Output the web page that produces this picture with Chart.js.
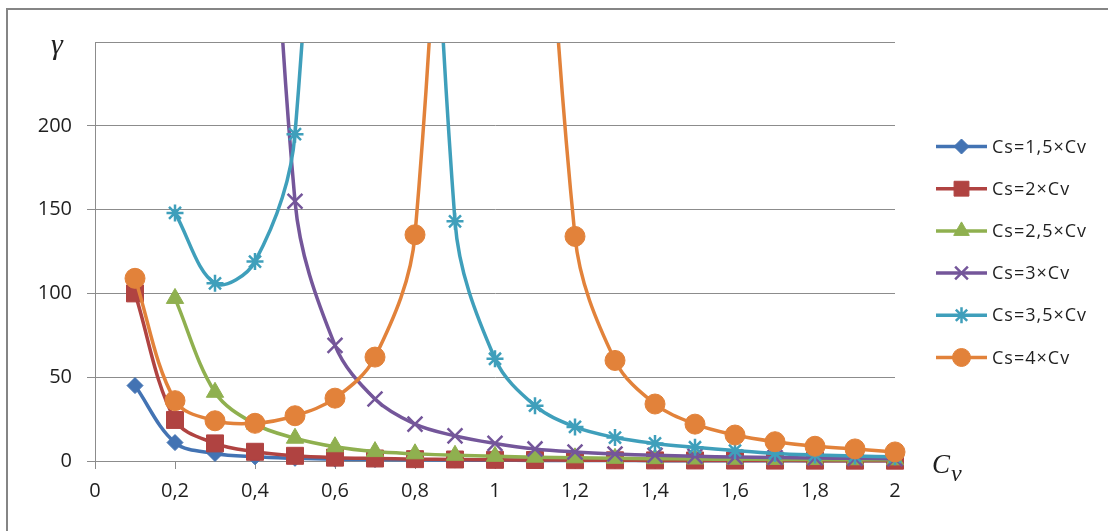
<!DOCTYPE html>
<html>
<head>
<meta charset="utf-8">
<script src="https://cdn.jsdelivr.net/npm/chart.js@4.4.1/dist/chart.umd.min.js"></script>
<style>
  html, body { margin: 0; padding: 0; background: #fff; }
  #wrap { width: 1108px; height: 531px; position: relative; }
</style>
</head>
<body>
<div id="wrap"><canvas id="chart-gamma"></canvas></div>
<script>
var cv = [0.1, 0.2, 0.3, 0.4, 0.5, 0.6, 0.7, 0.8, 0.9, 1.0, 1.1, 1.2, 1.3, 1.4, 1.5, 1.6, 1.7, 1.8, 1.9, 2.0];

var gamma15 = [45, 11, 4.5, 2.5, 1.6, 1.1, 0.85, 0.7, 0.55, 0.45, 0.37, 0.31, 0.26, 0.22, 0.19, 0.17, 0.15, 0.13, 0.12, 0.11];
var gamma20 = [100, 24.5, 10.5, 5.5, 3.1, 2, 1.5, 1.1, 0.9, 0.7, 0.6, 0.5, 0.42, 0.36, 0.32, 0.28, 0.25, 0.22, 0.2, 0.18];
var gamma25 = [null, 97, 41, 22, 13.6, 8.5, 5.6, 4.3, 3.4, 2.8, 2.3, 1.9, 1.6, 1.4, 1.2, 1.05, 0.95, 0.85, 0.75, 0.7];
var gamma30 = [null, null, null, 600, 155, 69, 37, 22, 15, 10.5, 7.2, 5.4, 4.2, 3.4, 2.8, 2.4, 2.1, 1.8, 1.6, 1.4];
var gamma35 = [null, 148, 106, 119, 195, 700, 1500, 700, 143, 61, 33, 20.3, 14, 10.5, 8.2, 6.2, 4.5, 3.6, 3, 2.5];
var gamma40 = [109, 36, 24, 22.5, 27, 37.5, 62, 135, 620, 1500, 540, 134, 60, 34, 22, 15.5, 11.5, 8.8, 7.2, 5.4];

var seriesNames = ['Cs=1,5×Cv', 'Cs=2×Cv', 'Cs=2,5×Cv', 'Cs=3×Cv', 'Cs=3,5×Cv', 'Cs=4×Cv'];
var seriesValues = [gamma15, gamma20, gamma25, gamma30, gamma35, gamma40];
var colors = ['#4373b3', '#b04341', '#8fb04f', '#74569a', '#3f9fbb', '#e2823a'];
var markers = ['rectRot', 'rect', 'triangle', 'crossRot', 'star', 'circle'];
var markerSizes = [8, 12, 10, 10.5, 8.5, 10];
var legendSizes = [7.5, 10.5, 9, 9, 8, 9];

var gridColor = '#8c8c8c';
var textColor = '#1f1f1f';

function comma(v) {
    return (Math.round(v * 10) / 10).toString().replace('.', ',');
}

function isStroked(style) {
    return style === 'crossRot' || style === 'star';
}

var datasets = seriesNames.map(function (name, i) {
    return {
        label: name,
        data: cv.map(function (x, j) { return { x: x, y: seriesValues[i][j] }; }),
        borderColor: colors[i],
        backgroundColor: colors[i],
        pointBackgroundColor: colors[i],
        pointBorderColor: colors[i],
        pointStyle: markers[i],
        pointRadius: markerSizes[i],
        pointBorderWidth: isStroked(markers[i]) ? 2.5 : 1,
        borderWidth: 3.5,
        tension: 0.35,
        spanGaps: false,
        order: 5 - i,
        clip: { left: 20, top: 0, right: 20, bottom: 20 }
    };
});

var extras = {
    id: 'extras',
    beforeDraw: function (chart) {
        var ctx = chart.ctx;
        ctx.save();
        ctx.fillStyle = '#fff';
        ctx.fillRect(0, 0, chart.width, chart.height);
        ctx.strokeStyle = '#858585';
        ctx.lineWidth = 2;
        ctx.beginPath();
        ctx.moveTo(7, 531);
        ctx.lineTo(7, 9);
        ctx.lineTo(1108, 9);
        ctx.stroke();
        ctx.restore();
    },
    afterDraw: function (chart) {
        var ctx = chart.ctx, area = chart.chartArea;
        ctx.save();
        // top grid line at y max
        var yTop = Math.round(chart.scales.y.getPixelForValue(250)) + 0.5;
        ctx.strokeStyle = gridColor;
        ctx.lineWidth = 1.2;
        ctx.beginPath();
        ctx.moveTo(area.left, yTop);
        ctx.lineTo(area.right, yTop);
        ctx.stroke();

        // axis names
        ctx.fillStyle = textColor;
        ctx.textBaseline = 'alphabetic';
        ctx.font = 'italic 30px "Liberation Serif"';
        ctx.fillText('γ', 51, 54);
        ctx.font = 'italic 27px "Liberation Serif"';
        ctx.fillText('C', 932, 473);
        ctx.font = 'italic 24px "Liberation Serif"';
        ctx.fillText('v', 951, 481);

        // legend
        var helpers = Chart.helpers;
        seriesNames.forEach(function (name, i) {
            var y = 146.5 + i * 42.2;
            ctx.strokeStyle = colors[i];
            ctx.fillStyle = colors[i];
            ctx.lineWidth = 3.5;
            ctx.beginPath();
            ctx.moveTo(936, y);
            ctx.lineTo(987, y);
            ctx.stroke();
            var stroked = isStroked(markers[i]);
            ctx.lineWidth = stroked ? 2.5 : 1;
            helpers.drawPoint(ctx, {
                pointStyle: markers[i],
                radius: legendSizes[i],
                rotation: 0,
                borderWidth: stroked ? 2.5 : 1
            }, 961.5, y);
            ctx.fillStyle = textColor;
            ctx.font = '18px "Open Sans"';
            ctx.letterSpacing = '1px';
            ctx.textBaseline = 'middle';
            ctx.fillText(name, 992, y + 1);
            ctx.letterSpacing = '0px';
        });
        ctx.restore();
    }
};

var chartGamma = new Chart(document.getElementById('chart-gamma').getContext('2d'), {
    type: 'line',
    data: { datasets: datasets },
    options: {
        responsive: true,
        maintainAspectRatio: false,
        animation: false,
        layout: { padding: { top: 42, right: 213, bottom: 0, left: 0 } },
        plugins: {
            legend: { display: false },
            tooltip: { enabled: false }
        },
        scales: {
            x: {
                type: 'linear',
                min: 0,
                max: 2,
                afterFit: function (scale) { scale.height = 70; },
                ticks: {
                    stepSize: 0.2,
                    padding: 10,
                    color: textColor,
                    font: { family: "'Open Sans', sans-serif", size: 20 },
                    callback: function (v) { return comma(v); }
                },
                grid: {
                    drawOnChartArea: false,
                    tickLength: 8,
                    color: gridColor
                },
                border: { display: true, color: gridColor }
            },
            y: {
                min: 0,
                max: 250,
                afterFit: function (scale) { scale.width = 95; },
                ticks: {
                    stepSize: 50,
                    padding: 15,
                    color: textColor,
                    font: { family: "'Open Sans', sans-serif", size: 20 },
                    callback: function (v) { return v === 250 ? '' : v; }
                },
                grid: {
                    color: gridColor,
                    tickLength: 8,
                    tickColor: function (ctx) {
                        return ctx.tick && ctx.tick.value === 250 ? 'rgba(0,0,0,0)' : gridColor;
                    }
                },
                border: { display: true, color: gridColor }
            }
        }
    },
    plugins: [extras]
});
</script>
</body>
</html>
